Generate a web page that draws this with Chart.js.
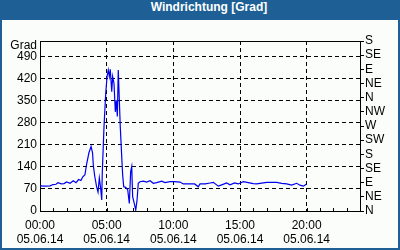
<!DOCTYPE html>
<html>
<head>
<meta charset="utf-8">
<script src="https://cdn.jsdelivr.net/npm/chart.js@4"></script>
<style>
  body { margin: 0; }
  #frame { position: absolute; left: 0; top: 0; width: 400px; height: 250px; background: #1e6096; }
  #title { position: absolute; left: 0; top: 0; width: 400px; height: 20px; line-height: 20px;
           color: #fff; font: bold 12px "Liberation Sans", sans-serif; text-align: center; text-indent: 18px; }
  #box { position: absolute; left: 2px; top: 20px; width: 396px; height: 228px; background: #fbfdfb; }
</style>
</head>
<body>
<div id="frame">
  <div id="title">Windrichtung [Grad]</div>
  <div id="box"><canvas id="myChart" width="396" height="228"></canvas></div>
</div>
<script>
// data (hours since 00:00, degrees)
const hours = [0, 0.375, 0.75, 0.98, 1.2, 1.35, 1.6, 1.8, 2.0, 2.25, 2.5, 2.7, 2.9, 3.07, 3.2, 3.37, 3.5, 3.67, 3.83, 3.94,
  4.0, 4.1, 4.24, 4.35, 4.45, 4.55, 4.63, 4.67, 4.8, 4.93, 5.03, 5.12, 5.2, 5.27, 5.38, 5.45, 5.55, 5.65, 5.72, 5.8,
  5.87, 5.95, 6.02, 6.13, 6.2, 6.28, 6.43, 6.58, 6.7, 6.8, 6.88, 6.95, 7.07, 7.18, 7.28, 7.37, 7.5, 7.75, 8.0, 8.25,
  8.5, 8.75, 9.13, 9.38, 9.75, 10.1, 10.5, 10.75, 11.6, 11.87, 12.0, 12.4, 12.75, 13.0, 13.37, 13.63, 14.0, 14.25, 14.6, 14.87,
  15.25, 15.62, 16.0, 16.25, 17.0, 17.75, 18.13, 18.5, 18.87, 19.25, 19.5, 19.75, 20.0];
const windDir = [80, 79, 80, 84, 85, 90, 86, 87, 92, 88, 96, 90, 100, 97, 108, 115, 150, 185, 205, 185,
  145, 112, 78, 60, 105, 72, 35, 120, 268, 374, 427, 448, 427, 450, 379, 427, 405, 315, 352, 300,
  448, 352, 268, 172, 114, 77, 75, 67, 24, 125, 141, 45, 24, 3, 35, 88, 93, 95, 92, 96,
  88, 90, 95, 90, 93, 93, 92, 86, 86, 77, 86, 86, 89, 91, 79, 83, 89, 83, 89, 86,
  93, 90, 87, 86, 91, 91, 88, 86, 82, 88, 82, 79, 86];

const gradTicks = [0, 70, 140, 210, 280, 350, 420, 490];
const dirTicks = [0, 45, 90, 135, 180, 225, 270, 315, 360, 405, 450, 495, 540];
const dirLabels = ['N', 'NE', 'E', 'SE', 'S', 'SW', 'W', 'NW', 'N', 'NE', 'E', 'SE', 'S'];
const hourTicks = [0, 1, 2, 3, 4, 5, 6, 7, 8, 9, 10, 11, 12, 13, 14, 15, 16, 17, 18, 19, 20, 21, 22, 23, 24];
const majorHours = [0, 5, 10, 15, 20];
const timeLabels = ['00:00', '05:00', '10:00', '15:00', '20:00'];
const dateLabels = ['05.06.14', '05.06.14', '05.06.14', '05.06.14', '05.06.14'];

const points = hours.map((h, i) => ({x: h, y: windDir[i]}));
const font = {family: 'Liberation Sans', size: 12};

// frame on top, inner hour ticks, "Grad" caption
const extras = {
    id: 'extras',
    afterDraw(chart) {
        const c = chart.ctx;
        const a = chart.chartArea;
        const xs = chart.scales.x;
        c.save();
        c.strokeStyle = '#000';
        c.lineWidth = 1;
        c.beginPath();
        c.moveTo(a.left, Math.round(a.top) + 0.5);
        c.lineTo(a.right, Math.round(a.top) + 0.5);
        hourTicks.forEach(h => {
            const px = Math.round(xs.getPixelForValue(h)) + 0.5;
            c.moveTo(px, a.bottom);
            c.lineTo(px, a.bottom - 3);
        });
        c.stroke();
        c.fillStyle = '#000';
        c.font = '12px "Liberation Sans"';
        c.textAlign = 'right';
        c.textBaseline = 'middle';
        c.fillText('Grad', 35, 26);
        c.restore();
    }
};

const ctx = document.getElementById('myChart');

let chart1 = new Chart(ctx, {
    type: 'line',
    data: {
        datasets: [{
            data: points,
            borderColor: '#0000f0',
            borderWidth: 1.2,
            pointRadius: 0,
            tension: 0,
            fill: false
        }]
    },
    options: {
        responsive: false,
        animation: false,
        layout: {padding: {top: 21, left: 0, right: 0, bottom: 0}},
        plugins: {legend: {display: false}, tooltip: {enabled: false}},
        scales: {
            x: {
                type: 'linear',
                min: 0,
                max: 24,
                afterBuildTicks: s => { s.ticks = hourTicks.map(v => ({value: v})); },
                afterFit: s => { s.height = 37; },
                grid: {
                    color: c => (c.tick && majorHours.includes(c.tick.value) && c.tick.value !== 0) ? '#000' : 'rgba(0,0,0,0)',
                    drawTicks: false
                },
                border: {color: '#000', width: 1, dash: [4, 3]},
                ticks: {
                    autoSkip: false,
                    maxRotation: 0,
                    padding: 7,
                    color: '#000',
                    font: font,
                    callback: v => {
                        const i = majorHours.indexOf(v);
                        return i < 0 ? '' : [timeLabels[i], dateLabels[i]];
                    }
                }
            },
            y: {
                position: 'left',
                min: 0,
                max: 540,
                afterBuildTicks: s => { s.ticks = gradTicks.map(v => ({value: v})); },
                afterFit: s => { s.width = 38; },
                grid: {color: '#000', drawTicks: false},
                border: {color: '#000', width: 1, dash: [4, 3]},
                ticks: {autoSkip: false, padding: 3, color: '#000', font: font}
            },
            y2: {
                position: 'right',
                min: 0,
                max: 540,
                afterBuildTicks: s => { s.ticks = dirTicks.map(v => ({value: v})); },
                afterFit: s => { s.width = 38; },
                grid: {drawOnChartArea: false, drawTicks: true, tickLength: 4, tickColor: '#000'},
                border: {color: '#000', width: 1},
                ticks: {
                    autoSkip: false,
                    padding: 1,
                    color: '#000',
                    font: font,
                    callback: v => dirLabels[dirTicks.indexOf(v)]
                }
            }
        }
    },
    plugins: [extras]
});
</script>
</body>
</html>
